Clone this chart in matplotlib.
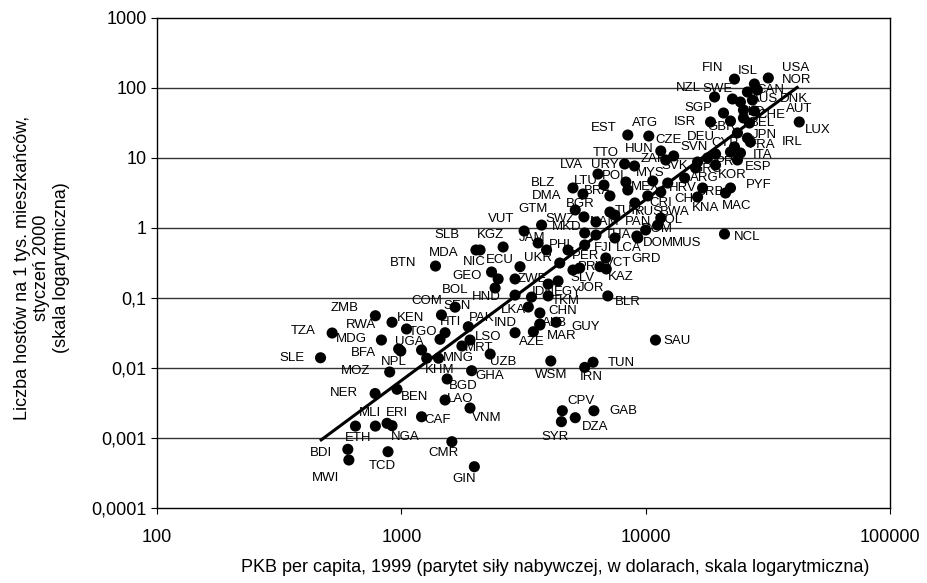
import numpy as np
import matplotlib
matplotlib.use("Agg")
import matplotlib.pyplot as plt
from matplotlib.ticker import FixedLocator, NullLocator

plt.rcParams['font.family'] = ['Liberation Sans', 'DejaVu Sans']

# kraj, PKB per capita (PPP USD, 1999), hosty na 1 tys. mieszkancow (styczen 2000)
codes = ['USA', 'FIN', 'ISL', 'NOR', 'NZL', 'SWE', 'CAN', 'AUS', 'DNK', 'SGP',
         'NLD', 'CHE', 'AUT', 'ISR', 'GBR', 'BEL', 'LUX', 'DEU', 'JPN', 'IRL',
         'FRA', 'CYP', 'ITA', 'CZE', 'HUN', 'SVN', 'ZAF', 'SVK', 'PRT', 'ESP',
         'GRC', 'KOR', 'ARG', 'PYF', 'MAC', 'BRB', 'KNA', 'CHL', 'HRV', 'CRI',
         'MYS', 'MEX', 'POL', 'URY', 'TTO', 'EST', 'ATG', 'LVA', 'LTU', 'BRA',
         'BLZ', 'DMA', 'BGR', 'SWZ', 'TUR', 'RUS', 'BWA', 'COL', 'PAN', 'NAM',
         'ROM', 'DOM', 'MUS', 'NCL', 'LCA', 'THA', 'FJI', 'GRD', 'VCT', 'PRY',
         'SLV', 'KAZ', 'PER', 'MKD', 'PHL', 'JAM', 'GTM', 'VUT', 'KGZ', 'SLB',
         'MDA', 'NIC', 'BTN', 'ECU', 'UKR', 'GEO', 'BOL', 'ZWE', 'HND', 'COM',
         'IDN', 'EGY', 'JOR', 'TKM', 'CHN', 'LKA', 'ALB', 'GUY', 'IND', 'PAK',
         'SEN', 'HTI', 'KEN', 'TGO', 'UGA', 'AZE', 'MAR', 'LSO', 'MRT', 'MNG',
         'UZB', 'KHM', 'GHA', 'BGD', 'BEN', 'LAO', 'VNM', 'CAF', 'ERI', 'NGA',
         'MLI', 'ETH', 'BDI', 'MWI', 'TCD', 'CMR', 'GIN', 'NER', 'MOZ', 'NPL',
         'BFA', 'ZMB', 'RWA', 'TZA', 'MDG', 'SLE', 'WSM', 'IRN', 'TUN', 'SAU',
         'CPV', 'GAB', 'DZA', 'SYR', 'BLR']

gdp = [31770, 23090, 27860, 28650, 19140, 22660, 26090, 24430, 27350, 20830,
       25130, 25130, 27860, 18430, 22240, 26590, 42520, 23750, 26090, 26830,
       23090, 22240, 24430, 13020, 11530, 17920, 12080, 16010, 19320, 23750,
       16310, 19320, 14440, 22240, 21220, 17100, 16310, 12310, 11530, 10200,
       10690, 8450, 8300, 9000, 8200, 8450, 10300, 6380, 6750, 7140,
       5040, 5540, 5590, 5150, 7140, 9030, 11530, 11200, 7480, 6260,
       9200, 9290, 10000, 21020, 7480, 6260, 5630, 6870, 6500, 5370,
       5040, 6900, 4810, 5630, 3930, 3630, 3750, 3180, 2610, 2100,
       2020, 2340, 1380, 3060, 4450, 2490, 2420, 2920, 2920, 1660,
       3410, 4380, 3990, 3990, 3690, 3310, 3690, 4300, 2920, 1880,
       1460, 1510, 1050, 1440, 1210, 3470, 3690, 1910, 1770, 1420,
       2310, 1270, 1940, 1540, 960, 1510, 1910, 1210, 874, 916,
       783, 649, 604, 610, 882, 1610, 1990, 781, 896, 995,
       975, 783, 916, 521, 829, 467, 4090, 5630, 6090, 10970,
       4560, 6140, 5150, 4520, 7000]

hosts = [139, 134, 114, 93.7, 74.4, 69.7, 87.7, 63.1, 67.4, 43.9,
         48.5, 37.3, 46.9, 32.7, 33.8, 31.6, 32.7, 22.8, 19.3, 16.9,
         14.4, 12.2, 11.8, 10.7, 12.6, 10.0, 9.37, 7.2, 11.4, 9.37,
         8.77, 7.94, 5.18, 3.73, 3.16, 3.73, 2.77, 4.39, 3.27, 2.87,
         4.69, 3.49, 4.54, 7.69, 8.21, 21.3, 20.6, 5.9, 4.11, 2.87,
         3.73, 3.06, 1.44, 1.81, 1.69, 2.28, 1.39, 1.10, 1.53, 1.22,
         0.768, 0.72, 0.936, 0.82, 0.72, 0.794, 0.572, 0.373, 0.28, 0.268,
         0.251, 0.26, 0.485, 0.849, 0.485, 0.611, 1.10, 0.906, 0.535, 0.485,
         0.485, 0.235, 0.286, 0.28, 0.316, 0.187, 0.139, 0.187, 0.110, 0.074,
         0.103, 0.175, 0.158, 0.107, 0.0611, 0.0743, 0.0425, 0.045, 0.0319, 0.0389,
         0.0572, 0.0319, 0.0361, 0.0257, 0.0181, 0.033, 0.0411, 0.0251, 0.0206, 0.0138,
         0.0158, 0.0138, 0.00915, 0.00697, 0.00497, 0.00349, 0.00268, 0.00201, 0.00162, 0.0015,
         0.00148, 0.00148, 0.00069, 0.000485, 0.000637, 0.000886, 0.000389, 0.00432, 0.00877, 0.0175,
         0.0187, 0.0558, 0.045, 0.0316, 0.0251, 0.014, 0.0126, 0.0102, 0.0121, 0.0251,
         0.00245, 0.00245, 0.00195, 0.00171, 0.107]

# polozenie etykiet wzgledem punktu (piksele, w gore dodatnio)
label_offset = {
    'USA': (27, 10), 'FIN': (-22, 11), 'ISL': (-7, 13), 'NOR': (39, 10), 'NZL': (-26, 9),
    'SWE': (-15, 10), 'CAN': (23, 2), 'AUS': (24, 3), 'DNK': (42, 1), 'SGP': (-25, 5),
    'NLD': (9, -2), 'CHE': (28, 3), 'AUT': (45, 2), 'ISR': (-26, 0), 'GBR': (-9, -6),
    'BEL': (13, 0), 'LUX': (18, -8), 'DEU': (-37, -4), 'JPN': (17, 3), 'IRL': (42, 0),
    'FRA': (28, 2), 'CYP': (-6, 9), 'ITA': (22, -2), 'CZE': (-5, 16), 'HUN': (-22, 2),
    'SVN': (-13, 11), 'ZAF': (-13, 1), 'SVK': (-21, 2), 'PRT': (13, -8), 'ESP': (21, -7),
    'GRC': (9, -7), 'KOR': (17, -10), 'ARG': (20, 0), 'PYF': (28, 3), 'MAC': (11, -13),
    'BRB': (8, -4), 'KNA': (8, -11), 'CHL': (20, -16), 'HRV': (22, 4), 'CRI': (13, -7),
    'MYS': (-2, 8), 'MEX': (18, 3), 'POL': (-11, 6), 'URY': (-30, 1), 'TTO': (-19, 11),
    'EST': (-24, 7), 'ATG': (-4, 13), 'LVA': (-27, 9), 'LTU': (-18, 4), 'BRA': (-12, 5),
    'BLZ': (-30, 5), 'DMA': (-36, -2), 'BGR': (-4, 13), 'SWZ': (-15, -9), 'TUR': (18, 1),
    'RUS': (14, -9), 'BWA': (14, 6), 'COL': (11, 5), 'PAN': (23, -7), 'NAM': (9, 0),
    'ROM': (21, 7), 'DOM': (21, -5), 'MUS': (41, -13), 'NCL': (23, -3), 'LCA': (14, -10),
    'THA': (22, 0), 'FJI': (18, -3), 'GRD': (40, -1), 'VCT': (18, 4), 'PRY': (12, 1),
    'SLV': (10, -8), 'KAZ': (14, -8), 'PER': (18, -6), 'MKD': (-18, 6), 'PHL': (15, 5),
    'JAM': (-6, 5), 'GTM': (-9, 16), 'VUT': (-23, 12), 'KGZ': (-13, 12), 'SLB': (-33, 15),
    'MDA': (-32, -3), 'NIC': (-17, 10), 'BTN': (-32, 3), 'ECU': (-20, 7), 'UKR': (-22, 5),
    'GEO': (-31, 3), 'BOL': (-40, -2), 'ZWE': (17, 0), 'HND': (-29, -2), 'COM': (-28, 6),
    'IDN': (12, 5), 'EGY': (10, -11), 'JOR': (43, -4), 'TKM': (18, -5), 'CHN': (23, 2),
    'LKA': (-15, -3), 'ALB': (15, 1), 'GUY': (30, -5), 'IND': (-10, 10), 'PAK': (13, 9),
    'SEN': (16, 9), 'HTI': (5, 11), 'KEN': (4, 11), 'TGO': (-17, 7), 'UGA': (-12, 8),
    'AZE': (-2, -10), 'MAR': (22, -11), 'LSO': (18, 3), 'MRT': (17, -2), 'MNG': (20, 0),
    'UZB': (13, -8), 'KHM': (13, -12), 'GHA': (18, -5), 'BGD': (16, -7), 'BEN': (18, -8),
    'LAO': (15, 1), 'VNM': (17, -10), 'CAF': (16, -3), 'ERI': (10, 10), 'NGA': (13, -11),
    'MLI': (-5, 13), 'ETH': (3, -12), 'BDI': (-27, -4), 'MWI': (-23, -18), 'TCD': (-6, -14),
    'CMR': (-8, -11), 'GIN': (-10, -12), 'NER': (-31, 1), 'MOZ': (-34, 1), 'NPL': (-7, -11),
    'BFA': (-35, -4), 'ZMB': (-31, 8), 'RWA': (-31, -3), 'TZA': (-29, 2), 'MDG': (-30, 1),
    'SLE': (-29, 0), 'WSM': (0, -14), 'IRN': (7, -10), 'TUN': (28, -1), 'SAU': (22, -1),
    'CPV': (19, 10), 'GAB': (29, 0), 'DZA': (20, -9), 'SYR': (-6, -15), 'BLR': (20, -6),
}

# linia trendu (regresja w skali log-log)
trend_gdp = [470, 41700]
trend_hosts = [0.00094, 102]

yticks = [0.0001, 0.001, 0.01, 0.1, 1, 10, 100, 1000]
ytick_labels = ['0,0001', '0,001', '0,01', '0,1', '1', '10', '100', '1000']
xticks = [100, 1000, 10000, 100000]
xtick_labels = ['100', '1000', '10000', '100000']

fig = plt.figure(figsize=(9.28, 5.83), dpi=100)
ax = fig.add_axes([157 / 928, 75 / 583, 733 / 928, 490 / 583])
ax.set_xscale('log')
ax.set_yscale('log')
ax.set_xlim(100, 100000)
ax.set_ylim(0.0001, 1000)

for y in yticks[1:-1]:
    ax.axhline(y, color='#333333', lw=1.0, zorder=1)

ax.plot(trend_gdp, trend_hosts, color='black', lw=2.2, zorder=2)
ax.scatter(gdp, hosts, s=64, color='black', edgecolors='none', zorder=3)

for c, g, h in zip(codes, gdp, hosts):
    dx, dy = label_offset[c]
    ax.annotate(c, (g, h), xytext=(dx, dy), textcoords='offset pixels',
                ha='center', va='center', fontsize=9.5, zorder=4)

ax.yaxis.set_major_locator(FixedLocator(yticks))
ax.yaxis.set_minor_locator(NullLocator())
ax.set_yticklabels(ytick_labels)
ax.xaxis.set_major_locator(FixedLocator(xticks))
ax.xaxis.set_minor_locator(NullLocator())
ax.set_xticklabels(xtick_labels)
ax.tick_params(axis='both', labelsize=13, length=4, direction='out')
ax.tick_params(axis='x', pad=11)

for s in ax.spines.values():
    s.set_linewidth(1.0)

fig.text(42 / 928, 1 - 268 / 583,
         'Liczba hostów na 1 tys. mieszkańców,\nstyczeń 2000\n(skala logarytmiczna)',
         rotation=90, ha='center', va='center', fontsize=13, linespacing=1.2,
         multialignment='center')
fig.text(555 / 928, 1 - 567 / 583,
         'PKB per capita, 1999 (parytet siły nabywczej, w dolarach, skala logarytmiczna)',
         ha='center', va='center', fontsize=13)

fig.savefig('out.png', dpi=100)
